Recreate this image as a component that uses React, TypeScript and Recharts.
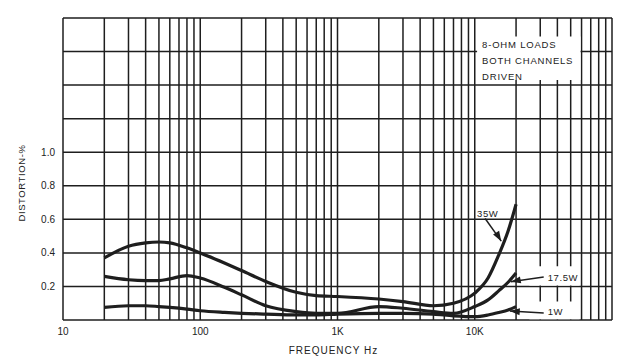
import React from 'react';
import {
  LineChart,
  Line,
  XAxis,
  YAxis,
  CartesianGrid,
  ReferenceArea,
  ReferenceLine,
  ReferenceDot,
} from 'recharts';

// frequencies (Hz) sampled along the three curves
const FREQ = [20, 30, 40, 50, 60, 80, 100, 150, 200, 300, 500, 700, 1000, 2000, 3000, 5000, 7000, 10000, 12500, 15000, 17500, 20000];
const W35 = [0.37, 0.44, 0.46, 0.465, 0.46, 0.43, 0.4, 0.34, 0.295, 0.23, 0.165, 0.145, 0.14, 0.125, 0.11, 0.085, 0.1, 0.16, 0.25, 0.39, 0.53, 0.69];
const W17 = [0.26, 0.24, 0.235, 0.235, 0.245, 0.265, 0.25, 0.195, 0.15, 0.085, 0.05, 0.04, 0.04, 0.08, 0.07, 0.05, 0.04, 0.08, 0.12, 0.175, 0.225, 0.28];
const W1 = [0.075, 0.085, 0.085, 0.08, 0.075, 0.065, 0.055, 0.045, 0.04, 0.035, 0.03, 0.03, 0.035, 0.04, 0.04, 0.035, 0.025, 0.02, 0.03, 0.045, 0.06, 0.08];

// log grid: 10..100K with 2..9 minor lines
const X_TICKS = [
  10, 20, 30, 40, 50, 60, 70, 80, 90,
  100, 200, 300, 400, 500, 600, 700, 800, 900,
  1000, 2000, 3000, 4000, 5000, 6000, 7000, 8000, 9000,
  10000, 20000, 30000, 40000, 50000, 60000, 70000, 80000, 90000,
  100000,
];
const X_LABELS: Record<number, string> = { 10: '10', 100: '100', 1000: '1K', 10000: '10K' };
const Y_TICKS = [0, 0.2, 0.4, 0.6, 0.8, 1.0, 1.2, 1.4, 1.6, 1.8];
const Y_LABELLED = [0.2, 0.4, 0.6, 0.8, 1.0];

const NOTE_LINES = ['8-OHM LOADS', 'BOTH CHANNELS', 'DRIVEN'];

// callouts in data space: text anchor, leader start, arrow tip
const CALLOUTS = [
  { label: '35W', text: [10400, 0.615], from: [11900, 0.605], tip: [15600, 0.47], angle: 59 },
  { label: '17.5W', text: [34000, 0.23], from: [31800, 0.256], tip: [18300, 0.228], angle: 169 },
  { label: '1W', text: [34000, 0.03], from: [31800, 0.042], tip: [18000, 0.054], angle: 184 },
];

const FONT = '"Liberation Sans", Arial, sans-serif';
const INK = '#1e1e1e';

const toSeries = (vals: number[]) => FREQ.map((f, i) => ({ f, v: vals[i] }));

const Arrowhead = (angle: number) => (p: any) => (
  <polygon
    points={`${p.cx},${p.cy} ${p.cx - 10},${p.cy - 3.5} ${p.cx - 10},${p.cy + 3.5}`}
    fill={INK}
    transform={`rotate(${angle} ${p.cx} ${p.cy})`}
  />
);

const TextMark = (label: string) => (p: any) => (
  <text x={p.cx} y={p.cy} fontSize={9.5} fontFamily={FONT} fill="#222" letterSpacing={0.6}>
    {label}
  </text>
);

export default function App() {
  return (
    <div style={{ position: 'absolute', left: 0, top: 0, width: 626, height: 360, background: '#fff' }}>
      <LineChart width={626} height={360} margin={{ top: 18, right: 14, bottom: 0, left: 0 }}>
        <CartesianGrid stroke={INK} strokeWidth={1.5} />
        <XAxis
          type="number"
          dataKey="f"
          scale="log"
          domain={[10, 100000]}
          ticks={X_TICKS}
          interval={0}
          allowDataOverflow
          axisLine={false}
          tickLine={false}
          height={40}
          tick={{ fill: '#222', fontSize: 10, fontFamily: FONT }}
          tickFormatter={(v: number) => X_LABELS[v] ?? ''}
          label={(props: any) => {
            const vb = props.viewBox;
            return (
              <text
                x={vb.x + vb.width / 2 - 4}
                y={vb.y + 34}
                textAnchor="middle"
                fontSize={10}
                fontFamily={FONT}
                fill="#222"
                letterSpacing={1}
              >
                FREQUENCY Hz
              </text>
            );
          }}
        />
        <YAxis
          type="number"
          domain={[0, 1.8]}
          ticks={Y_TICKS}
          interval={0}
          axisLine={false}
          tickLine={false}
          width={63}
          tick={{ fill: '#222', fontSize: 10, fontFamily: FONT }}
          tickFormatter={(v: number) => (Y_LABELLED.some((t) => Math.abs(t - v) < 1e-6) ? v.toFixed(1) : '')}
          label={(props: any) => {
            const vb = props.viewBox;
            const x = vb.x + 22;
            const y = vb.y + vb.height / 2 + 14;
            return (
              <text
                x={x}
                y={y}
                transform={`rotate(-90 ${x} ${y})`}
                textAnchor="middle"
                dominantBaseline="middle"
                fontSize={9.5}
                fontFamily={FONT}
                fill="#222"
                letterSpacing={0.6}
              >
                DISTORTION-%
              </text>
            );
          }}
        />

        {/* white patches behind the printed notes */}
        <ReferenceArea
          x1={10400}
          x2={59000}
          y1={1.43}
          y2={1.69}
          fill="#fff"
          fillOpacity={1}
          stroke="none"
          label={(props: any) => {
            const vb = props.viewBox;
            return (
              <text x={vb.x + 5} y={vb.y + 12} fontSize={9.5} fontFamily={FONT} fill="#222" letterSpacing={0.8}>
                {NOTE_LINES.map((l, i) => (
                  <tspan key={l} x={vb.x + 5} dy={i === 0 ? 0 : 16}>
                    {l}
                  </tspan>
                ))}
              </text>
            );
          }}
        />
        <ReferenceArea x1={25000} x2={58000} y1={0.205} y2={0.32} fill="#fff" fillOpacity={1} stroke="none" />
        <ReferenceArea x1={25000} x2={58000} y1={0.005} y2={0.11} fill="#fff" fillOpacity={1} stroke="none" />

        <Line data={toSeries(W35)} dataKey="v" type="monotone" stroke={INK} strokeWidth={3.2} dot={false} isAnimationActive={false} />
        <Line data={toSeries(W17)} dataKey="v" type="monotone" stroke={INK} strokeWidth={3.2} dot={false} isAnimationActive={false} />
        <Line data={toSeries(W1)} dataKey="v" type="monotone" stroke={INK} strokeWidth={3.2} dot={false} isAnimationActive={false} />

        {CALLOUTS.map((c) => (
          <ReferenceLine
            key={`l-${c.label}`}
            segment={[
              { x: c.from[0], y: c.from[1] },
              { x: c.tip[0], y: c.tip[1] },
            ]}
            stroke={INK}
            strokeWidth={1.5}
          />
        ))}
        {CALLOUTS.map((c) => (
          <ReferenceDot key={`a-${c.label}`} x={c.tip[0]} y={c.tip[1]} r={1} shape={Arrowhead(c.angle)} />
        ))}
        {CALLOUTS.map((c) => (
          <ReferenceDot key={`t-${c.label}`} x={c.text[0]} y={c.text[1]} r={1} shape={TextMark(c.label)} />
        ))}
      </LineChart>
    </div>
  );
}
